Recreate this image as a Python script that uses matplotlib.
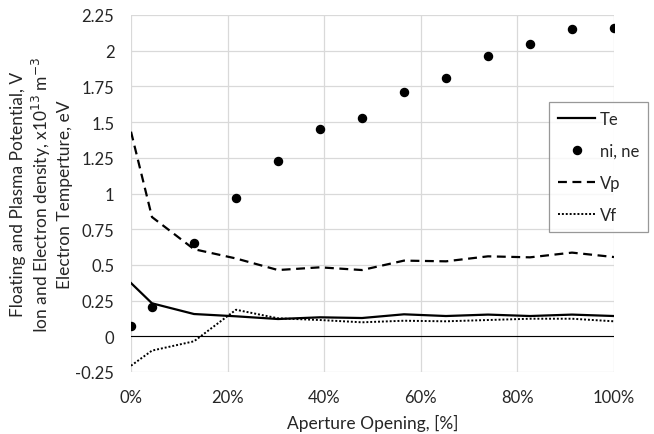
import matplotlib
matplotlib.use("Agg")
import matplotlib.pyplot as plt
from matplotlib.ticker import FuncFormatter, MultipleLocator

plt.rcParams['font.family'] = ['Lato', 'DejaVu Sans']

# Aperture opening (fraction)
opening = [0/23, 1/23, 3/23, 5/23, 7/23, 9/23, 11/23, 13/23, 15/23, 17/23, 19/23, 21/23, 23/23]
te = [0.373, 0.231, 0.156, 0.140, 0.121, 0.133, 0.128, 0.154, 0.142, 0.152, 0.142, 0.152, 0.142]
ni = [0.072, 0.207, 0.655, 0.968, 1.230, 1.452, 1.527, 1.709, 1.811, 1.961, 2.049, 2.152, 2.161]
vp = [1.433, 0.835, 0.610, 0.545, 0.464, 0.483, 0.464, 0.530, 0.525, 0.560, 0.553, 0.586, 0.555]
vf = [-0.206, -0.100, -0.035, 0.186, 0.126, 0.114, 0.098, 0.109, 0.105, 0.114, 0.123, 0.123, 0.105]

fig = plt.figure(figsize=(6.54, 4.35), dpi=100)
ax = fig.add_axes([131/654, 1 - 373/435, (614 - 131)/654, (373 - 16)/435])

ax.plot(opening, te, color='black', lw=1.6, label='Te', zorder=4)
ax.plot(opening, ni, 'o', color='black', ms=5.8, label='ni, ne', zorder=5)
ax.plot(opening, vp, color='black', lw=1.6, ls=(0, (4, 2.5)), label='Vp', zorder=4)
ax.plot(opening, vf, color='black', lw=1.4, ls=(0, (1, 1)), label='Vf', zorder=4)

ax.axhline(0, color='black', lw=0.8, zorder=3)

ax.set_xlim(0, 1)
ax.set_ylim(-0.25, 2.25)
ax.xaxis.set_major_locator(MultipleLocator(0.2))
ax.yaxis.set_major_locator(MultipleLocator(0.25))
ax.xaxis.set_major_formatter(FuncFormatter(lambda v, p: f"{v*100:.0f}%"))
ax.yaxis.set_major_formatter(FuncFormatter(lambda v, p: f"{v:g}"))
ax.grid(True, color='#d9d9d9', lw=0.9)
ax.set_axisbelow(True)
for s in ax.spines.values():
    s.set_visible(False)
ax.tick_params(length=0, labelsize=12, labelcolor='#262626', pad=12)
ax.tick_params(axis='x', pad=12)

ax.set_xlabel('Aperture Opening, [%]', fontsize=12.5, color='#262626', labelpad=7)
ax.set_ylabel('Floating and Plasma Potential, V\nIon and Electron density, x10$^{13}$ m$^{-3}$\nElectron Temperture, eV',
              fontsize=12.5, color='#262626', labelpad=2, linespacing=1.25)

leg = fig.legend(loc='upper left', bbox_to_anchor=(549/654, 1 - 103/435), frameon=True,
                 fontsize=12, handlelength=2.2, labelspacing=0.95, borderpad=0.55,
                 borderaxespad=0, handletextpad=0.3, fancybox=False)
leg.get_frame().set_edgecolor('#7f7f7f')
leg.get_frame().set_linewidth(0.9)
for t in leg.get_texts():
    t.set_color('#262626')

fig.savefig('out.png', dpi=100)
